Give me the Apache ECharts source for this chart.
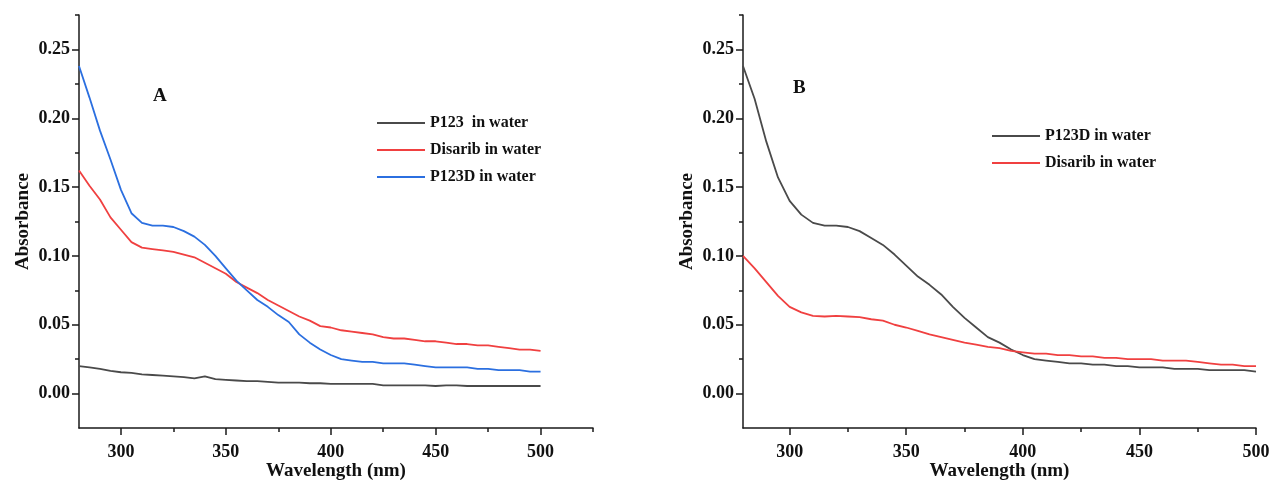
<!DOCTYPE html>
<html>
<head>
<meta charset="utf-8">
<script src="https://cdn.jsdelivr.net/npm/echarts@6/dist/echarts.min.js"></script>
<style>
html,body{margin:0;padding:0;background:#fff;}
#chart{width:1271px;height:480px;}
</style>
</head>
<body>
<div id="chart"></div>
<script>
// Wavelength (nm)
const wavelengths = [280,285,290,295,300,305,310,315,320,325,330,335,340,345,350,355,360,365,370,375,380,385,390,395,400,405,410,415,420,425,430,435,440,445,450,455,460,465,470,475,480,485,490,495,500];

// Panel A
const aP123 = [0.020,0.019,0.018,0.0165,0.0155,0.015,0.014,0.0135,0.013,0.0125,0.012,0.011,0.0125,0.0105,0.010,0.0095,0.009,0.009,0.0085,0.008,0.008,0.008,0.0075,0.0075,0.007,0.007,0.007,0.007,0.007,0.006,0.006,0.006,0.006,0.006,0.0055,0.006,0.006,0.0055,0.0055,0.0055,0.0055,0.0055,0.0055,0.0055,0.0055];
const aDisarib = [0.162,0.151,0.141,0.128,0.119,0.110,0.106,0.105,0.104,0.103,0.101,0.099,0.095,0.091,0.087,0.081,0.077,0.073,0.068,0.064,0.060,0.056,0.053,0.049,0.048,0.046,0.045,0.044,0.043,0.041,0.040,0.040,0.039,0.038,0.038,0.037,0.036,0.036,0.035,0.035,0.034,0.033,0.032,0.032,0.031];
const aP123D = [0.238,0.215,0.191,0.170,0.148,0.131,0.124,0.122,0.122,0.121,0.118,0.114,0.108,0.100,0.091,0.082,0.075,0.068,0.063,0.057,0.052,0.043,0.037,0.032,0.028,0.025,0.024,0.023,0.023,0.022,0.022,0.022,0.021,0.020,0.019,0.019,0.019,0.019,0.018,0.018,0.017,0.017,0.017,0.016,0.016];

// Panel B
const bP123D = [0.238,0.214,0.183,0.157,0.140,0.130,0.124,0.122,0.122,0.121,0.118,0.113,0.108,0.101,0.093,0.085,0.079,0.072,0.063,0.055,0.048,0.041,0.037,0.032,0.028,0.025,0.024,0.023,0.022,0.022,0.021,0.021,0.020,0.020,0.019,0.019,0.019,0.018,0.018,0.018,0.017,0.017,0.017,0.017,0.016];
const bDisarib = [0.100,0.091,0.081,0.071,0.063,0.059,0.0565,0.056,0.0565,0.056,0.0555,0.054,0.053,0.050,0.048,0.0455,0.043,0.041,0.039,0.037,0.0355,0.034,0.033,0.031,0.030,0.029,0.029,0.028,0.028,0.027,0.027,0.026,0.026,0.025,0.025,0.025,0.024,0.024,0.024,0.023,0.022,0.021,0.021,0.020,0.020];

// Axis ticks / labels
const xMajorTicks = [300,350,400,450,500];
const xMinorTicksA = [325,375,425,475,525];
const xMinorTicksB = [325,375,425,475];
const yMajorTicks = [0,0.05,0.10,0.15,0.20,0.25];
const yMinorTicks = [0.025,0.075,0.125,0.175,0.225,0.275];

const FONT = '"Liberation Serif","Times New Roman",serif';
const AXIS_COLOR = '#1a1a1a';
const zip = (xs, ys) => xs.map((x, i) => [x, ys[i]]);

function majorX(grid, max) {
  return {
    type: 'value', gridIndex: grid, min: 280, max: max,
    axisLine: {show: true, onZero: false, lineStyle: {color: AXIS_COLOR, width: 1.5}},
    axisTick: {show: true, inside: false, length: 7, customValues: xMajorTicks, lineStyle: {color: AXIS_COLOR, width: 1.5}},
    axisLabel: {customValues: xMajorTicks, margin: 15, fontFamily: FONT, fontWeight: 'bold', fontSize: 18, color: '#111'},
    splitLine: {show: false},
    name: 'Wavelength (nm)', nameLocation: 'middle', nameGap: 34, nameMoveOverlap: false,
    nameTextStyle: {fontFamily: FONT, fontWeight: 'bold', fontSize: 19, color: '#111'}
  };
}
function minorX(grid, max, ticks) {
  return {
    type: 'value', gridIndex: grid, min: 280, max: max, position: 'bottom',
    axisLine: {show: false, onZero: false},
    axisTick: {show: true, inside: false, length: 4, customValues: ticks, lineStyle: {color: AXIS_COLOR, width: 1.5}},
    axisLabel: {show: false},
    splitLine: {show: false}
  };
}
function majorY(grid) {
  return {
    type: 'value', gridIndex: grid, min: -0.025, max: 0.275,
    axisLine: {show: true, onZero: false, lineStyle: {color: AXIS_COLOR, width: 1.5}},
    axisTick: {show: true, inside: false, length: 7, customValues: yMajorTicks, lineStyle: {color: AXIS_COLOR, width: 1.5}},
    axisLabel: {customValues: yMajorTicks, margin: 9, fontFamily: FONT, fontWeight: 'bold', fontSize: 18, color: '#111',
      formatter: v => v.toFixed(2)},
    splitLine: {show: false},
    name: 'Absorbance', nameLocation: 'middle', nameGap: 46, nameRotate: 90, nameMoveOverlap: false,
    nameTextStyle: {fontFamily: FONT, fontWeight: 'bold', fontSize: 19, color: '#111'}
  };
}
function minorY(grid) {
  return {
    type: 'value', gridIndex: grid, min: -0.025, max: 0.275, position: 'left',
    axisLine: {show: false, onZero: false},
    axisTick: {show: true, inside: false, length: 4, customValues: yMinorTicks, lineStyle: {color: AXIS_COLOR, width: 1.5}},
    axisLabel: {show: false},
    splitLine: {show: false}
  };
}
function line(name, xi, yi, data, color) {
  return {
    name: name, type: 'line', xAxisIndex: xi, yAxisIndex: yi,
    data: data, symbol: 'none', smooth: false,
    lineStyle: {color: color, width: 1.8}, itemStyle: {color: color},
    silent: true, animation: false
  };
}

const GRAY = '#4a4a4a', RED = '#f04040', BLUE = '#2b6fe0';

const legendText = {fontFamily: FONT, fontWeight: 'bold', fontSize: 16, lineHeight: 18, color: '#111'};
const titleText = {fontFamily: FONT, fontWeight: 'bold', fontSize: 19, color: '#111'};

const option = {
  backgroundColor: '#fff',
  animation: false,
  title: [
    {text: 'A', left: 153, top: 87, padding: 0, textStyle: titleText},
    {text: 'B', left: 793, top: 79, padding: 0, textStyle: titleText}
  ],
  grid: [
    {left: 79, top: 15, width: 514, height: 413, outerBoundsMode: 'none', containLabel: false},
    {left: 743, top: 15, width: 513, height: 413, outerBoundsMode: 'none', containLabel: false}
  ],
  xAxis: [majorX(0, 525), minorX(0, 525, xMinorTicksA), majorX(1, 500), minorX(1, 500, xMinorTicksB)],
  yAxis: [majorY(0), minorY(0), majorY(1), minorY(1)],
  legend: [
    {orient: 'vertical', left: 377, top: 114, padding: 0, icon: 'rect', itemWidth: 48, itemHeight: 2, itemGap: 9,
     data: ['P123  in water', 'Disarib in water', 'P123D in water'],
     textStyle: legendText, selectedMode: false},
    {orient: 'vertical', left: 992, top: 127, padding: 0, icon: 'rect', itemWidth: 48, itemHeight: 2, itemGap: 9,
     data: ['B|P123D in water', 'B|Disarib in water'],
     formatter: n => n.replace(/^B\|/, ''),
     textStyle: legendText, selectedMode: false}
  ],
  series: [
    line('P123  in water', 0, 0, zip(wavelengths, aP123), GRAY),
    line('Disarib in water', 0, 0, zip(wavelengths, aDisarib), RED),
    line('P123D in water', 0, 0, zip(wavelengths, aP123D), BLUE),
    line('B|P123D in water', 2, 2, zip(wavelengths, bP123D), GRAY),
    line('B|Disarib in water', 2, 2, zip(wavelengths, bDisarib), RED)
  ]
};

const chart = echarts.init(document.getElementById('chart'), null, {renderer: 'canvas'});
chart.setOption(option);
</script>
</body>
</html>
